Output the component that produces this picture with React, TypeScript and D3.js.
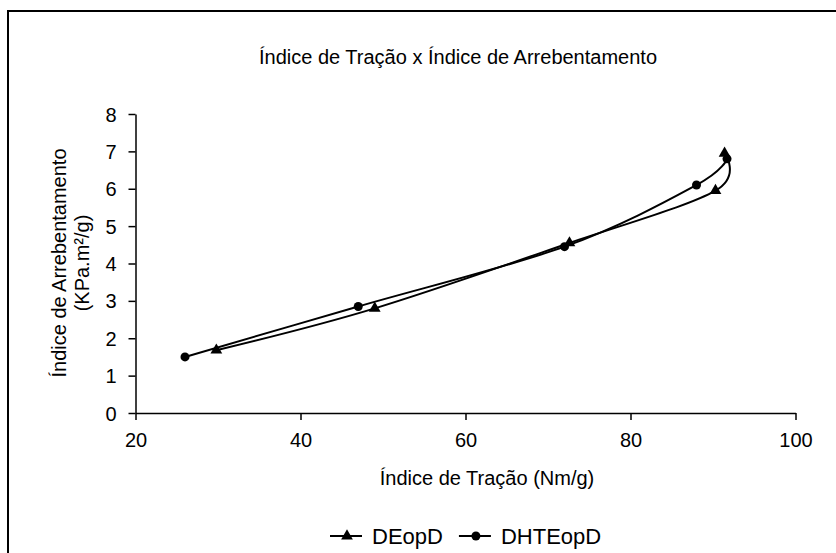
import React, { useEffect, useRef } from 'react';
import * as d3 from 'd3';

// Índice de Tração (x) e Índice de Arrebentamento (y)
const deopdX = [29.8, 49, 72.6, 90.3, 91.4];
const deopdY = [1.68, 2.8, 4.55, 5.95, 6.95];
const dhteopdX = [26, 47, 72, 88, 91.7];
const dhteopdY = [1.5, 2.85, 4.45, 6.1, 6.8];

const xTicks = [20, 40, 60, 80, 100];
const yTicks = [0, 1, 2, 3, 4, 5, 6, 7, 8];

const seriesNames = ['DEopD', 'DHTEopD'];

type Pt = { x: number; y: number };

export default function App() {
  const svgRef = useRef<SVGSVGElement>(null);

  useEffect(() => {
    if (!svgRef.current) return;
    const svg = d3.select(svgRef.current);
    svg.selectAll('*').remove();

    const font = 'Arial, "Liberation Sans", sans-serif';
    const fs = '20px';

    // moldura do gráfico
    svg.append('rect')
      .attr('x', 8).attr('y', 11)
      .attr('width', 900).attr('height', 600)
      .attr('fill', 'white')
      .attr('stroke', 'black')
      .attr('stroke-width', 2);

    const scaleX = d3.scaleLinear().domain([20, 100]).range([135.5, 795.5]);
    const scaleY = d3.scaleLinear().domain([0, 8]).range([413, 114]);

    const g = svg.append('g');

    // eixo x
    const ax = g.append('g')
      .attr('transform', `translate(0,${scaleY(0)})`)
      .call(d3.axisBottom(scaleX).tickValues(xTicks).tickSize(7).tickSizeOuter(0).tickPadding(13));
    // eixo y
    const ay = g.append('g')
      .attr('transform', `translate(${scaleX(20)},0)`)
      .call(d3.axisLeft(scaleY).tickValues(yTicks).tickSize(7).tickSizeOuter(0).tickPadding(12));

    [ax, ay].forEach(a => {
      a.select('.domain').attr('stroke', 'black').attr('stroke-width', 1.5);
      a.selectAll('.tick line').attr('stroke', 'black').attr('stroke-width', 1.5);
      a.selectAll('.tick text')
        .attr('fill', 'black')
        .style('font-family', font)
        .style('font-size', fs);
    });
    ay.selectAll('.tick text').attr('dy', '0.35em');

    const line = d3.line<Pt>()
      .x(d => scaleX(d.x))
      .y(d => scaleY(d.y))
      .curve(d3.curveCardinal.tension(0));

    const d1: Pt[] = deopdX.map((x, i) => ({ x, y: deopdY[i] }));
    const d2: Pt[] = dhteopdX.map((x, i) => ({ x, y: dhteopdY[i] }));

    const tri = d3.symbol().type(d3.symbolTriangle).size(60);

    [d1, d2].forEach((data, si) => {
      g.append('path')
        .datum(data)
        .attr('fill', 'none')
        .attr('stroke', 'black')
        .attr('stroke-width', 2)
        .attr('d', line);

      if (si === 0) {
        g.selectAll(null).data(data).enter().append('path')
          .attr('d', tri as any)
          .attr('transform', d => `translate(${scaleX(d.x)},${scaleY(d.y)})`)
          .attr('fill', 'black');
      } else {
        g.selectAll(null).data(data).enter().append('circle')
          .attr('cx', d => scaleX(d.x))
          .attr('cy', d => scaleY(d.y))
          .attr('r', 4.5)
          .attr('fill', 'black');
      }
    });

    // títulos
    svg.append('text')
      .attr('x', 458).attr('y', 64)
      .attr('text-anchor', 'middle')
      .style('font-family', font).style('font-size', fs)
      .text('Índice de Tração x Índice de Arrebentamento');

    svg.append('text')
      .attr('x', 487).attr('y', 485)
      .attr('text-anchor', 'middle')
      .style('font-family', font).style('font-size', fs)
      .text('Índice de Tração (Nm/g)');

    const yt = svg.append('text')
      .attr('transform', 'translate(66,263) rotate(-90)')
      .attr('text-anchor', 'middle')
      .style('font-family', font).style('font-size', fs);
    yt.append('tspan').attr('x', 0).attr('dy', 0).text('Índice de Arrebentamento');
    yt.append('tspan').attr('x', 0).attr('dy', 23).text('(KPa.m²/g)');

    // legenda
    const legend = svg.append('g').attr('transform', 'translate(0,536)');
    let cursor = 330;
    seriesNames.forEach((name, i) => {
      legend.append('line')
        .attr('x1', cursor).attr('x2', cursor + 32)
        .attr('y1', 0).attr('y2', 0)
        .attr('stroke', 'black').attr('stroke-width', 2);
      if (i === 0) {
        legend.append('path').attr('d', tri as any)
          .attr('transform', `translate(${cursor + 17},0)`).attr('fill', 'black');
      } else {
        legend.append('circle').attr('cx', cursor + 17).attr('cy', 0).attr('r', 4.5).attr('fill', 'black');
      }
      const t = legend.append('text')
        .attr('x', cursor + 42).attr('y', 8)
        .style('font-family', font).style('font-size', '22px')
        .text(name);
      const w = (t.node() as SVGTextElement).getComputedTextLength();
      cursor = cursor + 42 + w + 16;
    });
  }, []);

  return (
    <svg
      ref={svgRef}
      width={836}
      height={553}
      style={{ position: 'absolute', left: 0, top: 0, display: 'block', background: 'white' }}
    />
  );
}
